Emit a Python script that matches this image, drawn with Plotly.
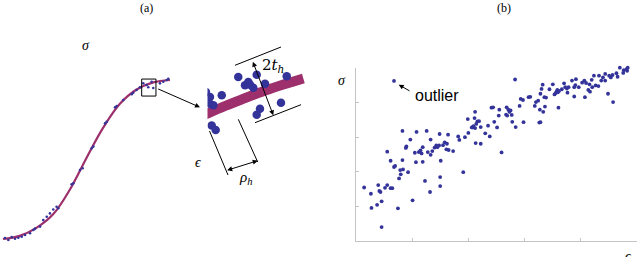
import plotly.graph_objects as go

W, H = 640, 257

# ---------------- Panel (a): stress-strain curve (normalised units) ----------------
curve_eps = [0.0, 0.1, 0.2, 0.3, 0.4, 0.5, 0.6, 0.7, 0.8, 0.9, 1.0]
curve_sig = [0.0, 0.02, 0.07, 0.155, 0.31, 0.51, 0.70, 0.85, 0.94, 0.985, 1.0]

pts_eps = [0.012, 0.032, 0.052, 0.072, 0.092, 0.112, 0.132, 0.162, 0.182, 0.192, 0.222, 0.241,
           0.262, 0.281, 0.301, 0.321, 0.331, 0.411, 0.421, 0.461, 0.477, 0.531, 0.541, 0.611,
           0.621, 0.671, 0.681, 0.72, 0.771, 0.78, 0.80, 0.82, 0.84, 0.86, 0.87, 0.89, 0.90,
           0.94, 0.96, 0.98, 0.99]
pts_sig = [0.006, -0.006, 0.013, 0.002, 0.008, 0.014, 0.025, 0.036, 0.057, 0.065, 0.078, 0.119,
           0.14, 0.161, 0.186, 0.203, 0.193, 0.344, 0.35, 0.434, 0.445, 0.57, 0.581, 0.727,
           0.737, 0.828, 0.836, 0.874, 0.91, 0.92, 0.937, 0.954, 0.979, 0.969, 0.954, 0.989, 0.95,
           0.979, 0.989, 1.0, 1.008]

# ---------------- Inset (magnified view of the boxed region) ----------------
inset_curve_x = [-0.073, 0.002, 0.171, 0.366, 0.561, 0.756, 0.935]
inset_curve_y = [0.271, 0.312, 0.400, 0.492, 0.581, 0.659, 0.724]
inset_pts_x = [0.300, 0.480, 0.366, 0.415, 0.447, 0.398, 0.561, 0.773, 0.139, 0.024, 0.024,
               0.057, -0.015, 0.717, 0.512, 0.480, 0.041, 0.080]
inset_pts_y = [0.741, 0.768, 0.644, 0.651, 0.615, 0.682, 0.662, 0.749, 0.526, 0.506, 0.427,
               0.408, 0.565, 0.439, 0.368, 0.298, 0.171, 0.118]

# ---------------- Panel (b): scatter with outlier ----------------
b_eps = [0.15, 0.27, 0.28, 0.40, 0.42, 0.44, 0.38, 0.46, 0.46, 0.52, 0.56, 0.56, 0.62, 0.65,
         0.62, 0.68, 0.70, 0.75, 0.77, 0.80, 0.79, 0.83, 0.84, 0.83, 0.89, 0.90, 0.93, 0.97,
         1.01, 1.05, 1.07, 1.08, 1.12, 1.15, 1.17, 1.19, 1.19, 1.23, 1.26, 1.28, 1.32, 1.33,
         1.33, 1.36, 1.40, 1.43, 1.45, 1.48, 1.49, 1.50, 1.50, 1.51, 1.55, 1.58, 1.62, 1.64,
         1.61, 1.65, 1.73, 1.82, 1.84, 1.91, 1.94, 2.00, 1.99, 2.06, 2.08, 2.09, 2.11, 2.12,
         2.12, 2.13, 2.14, 2.16, 2.19, 2.22, 2.22, 2.30, 2.35, 2.38, 2.41, 2.44, 2.46, 2.51,
         2.54, 2.55, 2.59, 2.67, 2.68, 2.69, 2.71, 2.73, 2.75, 2.77, 2.78, 2.83, 2.84, 2.91,
         2.93, 2.97, 2.98, 3.07, 3.10, 3.18, 3.20, 3.24, 3.26, 3.28, 3.27, 3.28, 3.30, 3.32,
         3.33, 3.35, 3.38, 3.36, 3.44, 3.50, 3.53, 3.55, 3.57, 3.58, 3.59, 3.60, 3.61, 3.66,
         3.70, 3.72, 3.75, 3.76, 3.78, 3.84, 3.88, 3.88, 3.90, 3.91, 3.96, 4.02, 4.06, 4.07,
         4.09, 4.13, 4.15, 4.16, 4.19, 4.20, 4.23, 4.26, 4.31, 4.32, 4.36, 4.39, 4.43, 4.43,
         4.48, 4.50, 4.53, 4.56, 4.57, 4.63, 4.65, 4.69, 4.75, 4.76, 4.81, 4.83, 4.82]
b_sig = [1.55, 1.37, 0.96, 1.62, 1.45, 1.42, 1.05, 1.15, 0.41, 1.54, 1.62, 2.58, 1.53, 1.53,
         2.32, 2.14, 2.17, 0.95, 1.81, 1.93, 2.05, 2.34, 2.07, 3.18, 2.69, 2.73, 1.99, 2.93,
         1.18, 2.55, 2.28, 3.15, 2.57, 2.62, 2.53, 2.71, 2.29, 1.74, 3.18, 2.57, 1.42, 2.93,
         2.49, 2.60, 2.70, 2.76, 2.71, 2.76, 3.09, 1.85, 1.59, 2.32, 2.77, 2.85, 2.81, 3.07,
         2.65, 2.63, 2.60, 3.02, 2.92, 1.99, 3.00, 3.12, 3.52, 3.28, 3.28, 3.32, 3.55, 3.26,
         3.73, 2.83, 3.38, 3.45, 3.46, 2.81, 3.29, 3.11, 3.33, 3.02, 3.85, 3.86, 3.44, 3.28,
         3.62, 3.79, 2.56, 3.65, 3.86, 3.62, 3.79, 3.73, 3.77, 3.64, 3.44, 4.66, 3.29, 3.90,
         4.10, 4.07, 3.43, 4.15, 4.16, 3.90, 4.01, 4.05, 3.42, 3.43, 3.79, 4.25, 4.39, 4.51,
         3.73, 4.15, 4.14, 3.88, 4.38, 4.52, 4.23, 4.27, 4.32, 4.36, 4.29, 3.85, 4.33, 4.38,
         4.55, 4.44, 4.40, 4.28, 4.44, 4.63, 4.17, 4.44, 4.50, 4.67, 4.44, 4.57, 4.63, 4.15,
         4.56, 4.36, 4.52, 4.31, 4.65, 4.44, 4.77, 4.49, 4.47, 4.77, 4.63, 4.72, 4.82, 4.63,
         4.25, 4.77, 4.72, 4.79, 4.01, 4.84, 4.74, 5.00, 4.85, 4.93, 4.96, 5.00, 4.91]
outlier_eps = [0.68]
outlier_sig = [4.62]

DOT = "#33339a"
CURVE = "#9c2f6c"
AXC = "#c4c4c4"


def px(x):
    return x / W


def py(y):
    return 1 - y / H


fig = go.Figure()

# Panel (a)
fig.add_trace(go.Scatter(x=curve_eps, y=curve_sig, mode="lines",
                         line=dict(color=CURVE, width=2.2, shape="spline", smoothing=1.0),
                         xaxis="x", yaxis="y", hoverinfo="skip"))
fig.add_trace(go.Scatter(x=pts_eps, y=pts_sig, mode="markers", marker=dict(color=DOT, size=2.6),
                         xaxis="x", yaxis="y", cliponaxis=False, hoverinfo="skip"))

# Inset
fig.add_trace(go.Scatter(x=inset_curve_x, y=inset_curve_y, mode="lines",
                         line=dict(color=CURVE, width=10, shape="spline"), xaxis="x2", yaxis="y2", hoverinfo="skip"))
fig.add_trace(go.Scatter(x=inset_pts_x, y=inset_pts_y, mode="markers", marker=dict(color=DOT, size=8.5),
                         xaxis="x2", yaxis="y2", hoverinfo="skip"))

# Panel (b)
fig.add_trace(go.Scatter(x=b_eps + outlier_eps, y=b_sig + outlier_sig, mode="markers",
                         marker=dict(color=DOT, size=3.8), xaxis="x3", yaxis="y3", cliponaxis=False,
                         hoverinfo="skip"))

hidden = dict(visible=False, fixedrange=True)
fig.update_layout(
    width=W, height=H, margin=dict(l=0, r=0, t=0, b=0), showlegend=False,
    paper_bgcolor="white", plot_bgcolor="rgba(0,0,0,0)",
    xaxis=dict(domain=[0, 180 / W], range=[-0.018, 1.060], **hidden),
    yaxis=dict(domain=[py(245), py(70)], range=[-0.0377, 1.0629], **hidden),
    xaxis2=dict(domain=[px(207.5), px(310)], range=[0, 1], anchor="y2", **hidden),
    yaxis2=dict(domain=[py(140), py(55)], range=[0, 1], anchor="x2", **hidden),
    xaxis3=dict(domain=[px(355.7), px(637.3)], range=[0, 5], anchor="y3", showline=True, linecolor=AXC,
                linewidth=1, ticks="inside", ticklen=3, tickcolor=AXC, dtick=1, showticklabels=False,
                showgrid=False, zeroline=False, fixedrange=True),
    yaxis3=dict(domain=[py(241.3), py(67.7)], range=[0, 5], anchor="x3", showline=True, linecolor=AXC,
                linewidth=1, ticks="inside", ticklen=3, tickcolor=AXC, dtick=1, showticklabels=False,
                showgrid=False, zeroline=False, fixedrange=True),
)

# box around magnified region in panel (a)
shapes = [dict(type="rect", xref="x", yref="y", x0=0.8305, x1=0.916, y0=0.899, y1=1.006,
               line=dict(color="black", width=1))]


def seg(x0, y0, x1, y1):
    return dict(type="line", xref="paper", yref="paper", x0=px(x0), y0=py(y0), x1=px(x1), y1=py(y1),
                line=dict(color="black", width=1))


shapes += [
    seg(235, 65.3, 281, 47),       # upper boundary line
    seg(255, 122.7, 301, 104.7),   # lower boundary line
    seg(209.5, 131, 228, 175),     # rho line 1
    seg(238.3, 119.3, 257.7, 162),  # rho line 2
]
fig.update_layout(shapes=shapes)

ann = []


def arrow(hx, hy, tx, ty, both=False):
    d = dict(x=px(hx), y=py(hy), xref="paper", yref="paper", ax=tx - hx, ay=ty - hy,
             axref="pixel", ayref="pixel", text="", showarrow=True, arrowhead=2, arrowsize=1.0,
             arrowwidth=1, arrowcolor="black")
    if both:
        d["arrowside"] = "end+start"
        d["startarrowhead"] = 2
        d["startarrowsize"] = 1.0
    return d


ann.append(arrow(200, 107.3, 156.7, 88.3))          # box -> inset
ann.append(arrow(273.3, 115.3, 252.3, 60.3, both=True))  # 2t_h
ann.append(arrow(257.7, 160.7, 225.7, 170.7, both=True))  # rho_h
ann.append(arrow(398.7, 84.7, 411, 91.7))           # outlier pointer


def label(text, x, y, size, family="Liberation Serif", xanchor="center", yanchor="middle"):
    return dict(text=text, x=px(x), y=py(y), xref="paper", yref="paper", showarrow=False,
                font=dict(family=family, size=size, color="black"), xanchor=xanchor, yanchor=yanchor)


ann += [
    label("(a)", 146.5, 7.5, 12),
    label("(b)", 504, 8, 12),
    label("<i>σ</i>", 86, 45, 14),
    label("<i>ϵ</i>", 198.5, 162, 14),
    label("2<i>t</i><sub><i>h</i></sub>", 273, 65, 15, family="DejaVu Serif"),
    label("<i>ρ</i><sub><i>h</i></sub>", 245, 178, 15),
    label("<i>σ</i>", 342, 80, 14),
    label("<i>ϵ</i>", 628, 256, 14),
    label("outlier", 413, 95, 16, family="Liberation Sans", xanchor="left"),
]
fig.update_layout(annotations=ann)

fig.write_html("out.html", config={"displayModeBar": False, "staticPlot": True},
               post_script="document.body.style.margin='0';document.body.style.overflow='hidden';")
